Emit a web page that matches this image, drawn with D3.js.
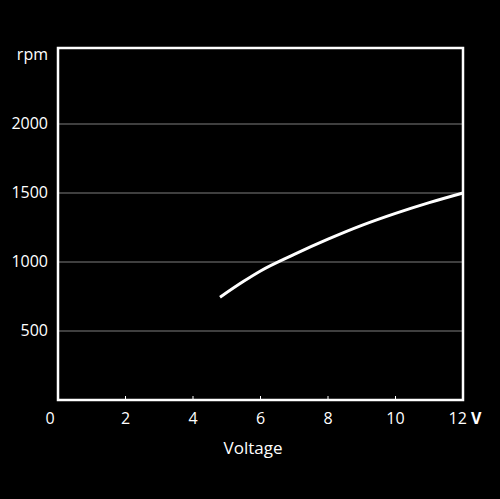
<!DOCTYPE html><html><head><meta charset="utf-8"><script src="https://d3js.org/d3.v7.min.js"></script>
<style>body{margin:0;background:#000}</style></head><body><svg id="c" width="500" height="499"></svg>
<script>
const voltage=[4.8,5.5,6,7,8,9,10,11,12];
const rpm=[745,860,935,1055,1165,1265,1352,1430,1500];
const yTicks=[500,1000,1500,2000];
const xTicks=[0,2,4,6,8,10];
const svg=d3.select("#c");
svg.append("rect").attr("width",500).attr("height",499).attr("fill","#000");
const x=d3.scaleLinear().domain([0,12]).range([58,463]);
const y=d3.scaleLinear().domain([0,2550]).range([400,48]);
const f="'Open Sans',sans-serif";
svg.selectAll(".g").data(yTicks).join("line").attr("x1",x(0)).attr("x2",x(12)).attr("y1",d=>y(d)).attr("y2",d=>y(d)).attr("stroke","#555").attr("stroke-width",1.5);
svg.selectAll(".yl").data(yTicks).join("text").attr("x",48).attr("y",d=>y(d)+5).attr("text-anchor","end").attr("fill","#fff").attr("font-family",f).attr("font-size",16).text(d=>d);
svg.append("text").attr("x",48).attr("y",y(2500)+5).attr("text-anchor","end").attr("fill","#fff").attr("font-family",f).attr("font-size",16).text("rpm");
svg.selectAll(".xt").data(xTicks.slice(1)).join("line").attr("x1",d=>x(d)).attr("x2",d=>x(d)).attr("y1",396).attr("y2",400).attr("stroke","#fff").attr("stroke-width",1);
svg.selectAll(".xl").data(xTicks).join("text").attr("x",d=>x(d)-(d===0?8:0)).attr("y",424).attr("text-anchor","middle").attr("fill","#fff").attr("font-family",f).attr("font-size",16).text(d=>d);
const t12=svg.append("text").attr("x",x(12)+2).attr("y",424).attr("text-anchor","middle").attr("fill","#fff").attr("font-family",f).attr("font-size",16);
t12.append("tspan").text("12 ");t12.append("tspan").attr("font-weight","bold").text("V");
svg.append("text").attr("x",253).attr("y",454).attr("text-anchor","middle").attr("fill","#fff").attr("font-family",f).attr("font-size",17).text("Voltage");
svg.append("path").datum(voltage.map((v,i)=>[v,rpm[i]])).attr("d",d3.line().x(d=>x(d[0])).y(d=>y(d[1])).curve(d3.curveMonotoneX)).attr("fill","none").attr("stroke","#fff").attr("stroke-width",3);
svg.append("rect").attr("x",x(0)).attr("y",48).attr("width",x(12)-x(0)).attr("height",352).attr("fill","none").attr("stroke","#fff").attr("stroke-width",2.5);
</script></body></html>
